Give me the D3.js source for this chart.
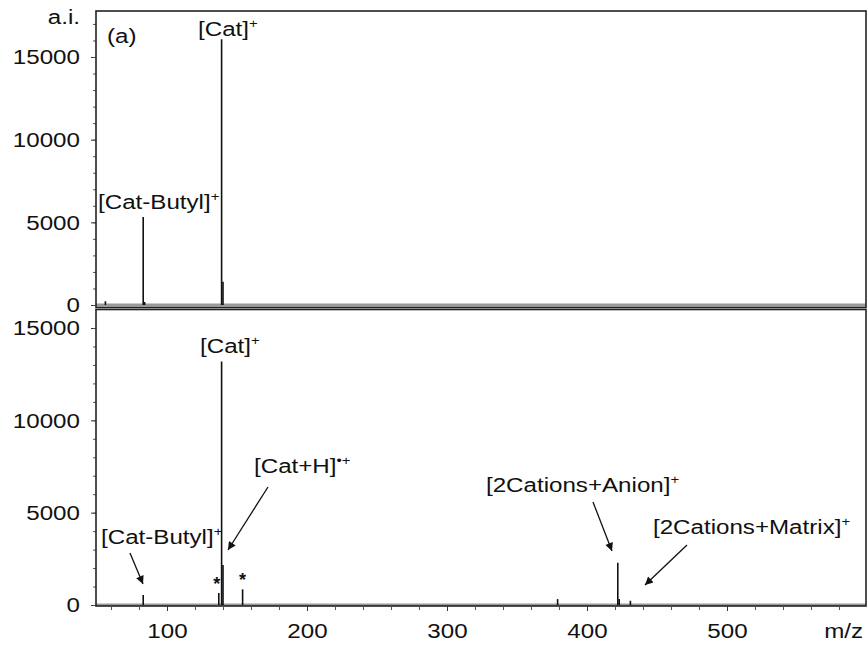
<!DOCTYPE html>
<html>
<head>
<meta charset="utf-8">
<script src="https://cdn.jsdelivr.net/npm/d3@7"></script>
<style>
  html, body { margin: 0; padding: 0; background: #fff; }
  svg { display: block; }
  text { font-family: "Liberation Sans", Arial, sans-serif; fill: #111; }
</style>
</head>
<body>
<script>
// MALDI mass spectrum of the ionic liquid: two stacked panels sharing one m/z axis.

// Upper panel (a): peak positions (m/z) and intensities (a.i.)
const topMz        = [56, 83, 84, 139, 140];
const topIntensity = [220, 5320, 180, 16080, 1400];

// Lower panel: peak positions and intensities
const botMz        = [83, 137, 139, 140, 154, 379, 422, 423, 431];
const botIntensity = [540, 650, 13180, 2170, 850, 320, 2290, 320, 230];

// Axis ticks
const xTicks      = [100, 200, 300, 400, 500];
const xMinorTicks = d3.range(60, 600, 20);
const yTicks      = [0, 5000, 10000, 15000];
const yMinorTop   = d3.range(0, 18000, 1000);
const yMinorBot   = d3.range(0, 17000, 1000);

// Peak annotations: [text, superscript, panel, x, baseline]
const labels = [
  ["[Cat]", "+", "top", 198, 36],
  ["[Cat-Butyl]", "+", "top", 98, 209],
  ["[Cat]", "+", "bot", 200, 353],
  ["[Cat+H]", "\u2022+", "bot", 254, 473],
  ["[Cat-Butyl]", "+", "bot", 101, 544],
  ["[2Cations+Anion]", "+", "bot", 486, 492],
  ["[2Cations+Matrix]", "+", "bot", 653, 534]
];
// Arrows: [x1, y1, x2, y2] tail to head
const arrows = [
  [268, 487, 228, 550],
  [130, 553, 143, 584],
  [593, 502, 612, 551],
  [687, 545, 645, 585]
];
// Asterisks marking matrix peaks (m/z, intensity offset above peak)
const starMz = [137, 154];

const W = 867, H = 646;
const left = 96, right = 866;
const topFrame = [11, 307.5];
const botFrame = [309.5, 606];
const SX = 1.15;   // horizontal stretch of the lettering
const FS = 21;

const svg = d3.select("body").append("svg").attr("width", W).attr("height", H);

const x = d3.scaleLinear().domain([50, 600]).range([left + 1, left + 1 + 770]);
const yTop = d3.scaleLinear().domain([0, 15000]).range([305, 57]);
const yBot = d3.scaleLinear().domain([0, 15000]).range([605, 328]);

const defs = svg.append("defs");
[["clipTop", topFrame], ["clipBot", botFrame]].forEach(([id, f]) => {
  defs.append("clipPath").attr("id", id).append("rect")
    .attr("x", left).attr("y", f[0]).attr("width", right - left).attr("height", f[1] - f[0]);
});
defs.append("marker").attr("id", "arrowHead")
  .attr("viewBox", "0 0 10 10").attr("refX", 10).attr("refY", 5)
  .attr("markerWidth", 10).attr("markerHeight", 8).attr("markerUnits", "userSpaceOnUse")
  .attr("orient", "auto")
  .append("path").attr("d", "M0,0 L10,5 L0,10 Z").attr("fill", "#111");

function stretchedText(g, str, sup, tx, ty, anchor) {
  const t = g.append("text")
    .attr("transform", `translate(${tx},${ty}) scale(${SX},1)`)
    .attr("text-anchor", anchor || "start")
    .style("font-size", FS + "px");
  t.append("tspan").text(str);
  if (sup) t.append("tspan").attr("dy", -8).style("font-size", "13px").text(sup);
  return t;
}

function drawPanel(y, frame, mz, inten, clipId, minor) {
  const g = svg.append("g");
  const plot = g.append("g").attr("clip-path", `url(#${clipId})`);
  // baseline noise band
  plot.append("line")
    .attr("x1", left).attr("x2", right).attr("y1", y(0)).attr("y2", y(0))
    .attr("stroke", "#9a9a9a").attr("stroke-width", 3);
  plot.selectAll("line.peak").data(d3.zip(mz, inten)).join("line")
    .attr("class", "peak")
    .attr("x1", d => x(d[0])).attr("x2", d => x(d[0]))
    .attr("y1", y(0)).attr("y2", d => y(d[1]))
    .attr("stroke", "#111").attr("stroke-width", 1.6);

  // y axis: major ticks with labels, minor ticks
  const ax = d3.axisLeft(y).tickValues(yTicks).tickSize(5).tickPadding(9)
    .tickFormat(d3.format("d"));
  const ag = g.append("g").attr("transform", `translate(${left},0)`).call(ax);
  ag.select(".domain").remove();
  ag.selectAll(".tick line").attr("stroke", "#333");
  ag.selectAll(".tick text")
    .attr("transform", `scale(${SX},1)`)
    .style("font-size", FS + "px").style("font-family", "Liberation Sans, Arial, sans-serif")
    .attr("fill", "#111");
  const mg = g.append("g").attr("transform", `translate(${left},0)`)
    .call(d3.axisLeft(y).tickValues(minor.filter(v => y(v) >= frame[0] + 2)).tickSize(3).tickFormat(""));
  mg.select(".domain").remove();
  mg.selectAll(".tick line").attr("stroke", "#555");

  // frame
  g.append("rect")
    .attr("x", left).attr("y", frame[0]).attr("width", right - left).attr("height", frame[1] - frame[0])
    .attr("fill", "none").attr("stroke", "#222").attr("stroke-width", 1.6);
  return g;
}

drawPanel(yTop, topFrame, topMz, topIntensity, "clipTop", yMinorTop);
drawPanel(yBot, botFrame, botMz, botIntensity, "clipBot", yMinorBot);

// shared m/z axis under the lower panel
const xg = svg.append("g").attr("transform", `translate(0,${botFrame[1]})`)
  .call(d3.axisBottom(x).tickValues(xTicks).tickSize(5).tickPadding(12).tickFormat(d3.format("d")));
xg.select(".domain").remove();
xg.selectAll(".tick line").attr("stroke", "#333");
xg.selectAll(".tick text")
  .attr("transform", `scale(${SX},1)`)
  .style("font-size", FS + "px").style("font-family", "Liberation Sans, Arial, sans-serif")
  .attr("fill", "#111")
  .each(function() { const t = d3.select(this); t.attr("x", 0); });
const xm = svg.append("g").attr("transform", `translate(0,${botFrame[1]})`)
  .call(d3.axisBottom(x).tickValues(xMinorTicks.filter(v => xTicks.indexOf(v) < 0)).tickSize(4).tickFormat(""));
xm.select(".domain").remove();
xm.selectAll(".tick line").attr("stroke", "#555");

// axis titles
const ann = svg.append("g");
stretchedText(ann, "a.i.", null, 80, 24, "end");
stretchedText(ann, "m/z", null, 863, 638, "end");
stretchedText(ann, "(a)", null, 107, 43, "start");

labels.forEach(([s, sup, panel, tx, ty]) => stretchedText(ann, s, sup, tx, ty, "start"));

ann.selectAll("line.arrow").data(arrows).join("line")
  .attr("class", "arrow")
  .attr("x1", d => d[0]).attr("y1", d => d[1]).attr("x2", d => d[2]).attr("y2", d => d[3])
  .attr("stroke", "#111").attr("stroke-width", 1.3)
  .attr("marker-end", "url(#arrowHead)");

starMz.forEach(m => {
  const v = botIntensity[botMz.indexOf(m)];
  ann.append("text")
    .attr("x", x(m) - (m === 137 ? 2 : 0)).attr("y", yBot(v) - 3)
    .attr("text-anchor", "middle")
    .style("font-size", "18px").style("font-weight", "bold")
    .text("*");
});
</script>
</body>
</html>
